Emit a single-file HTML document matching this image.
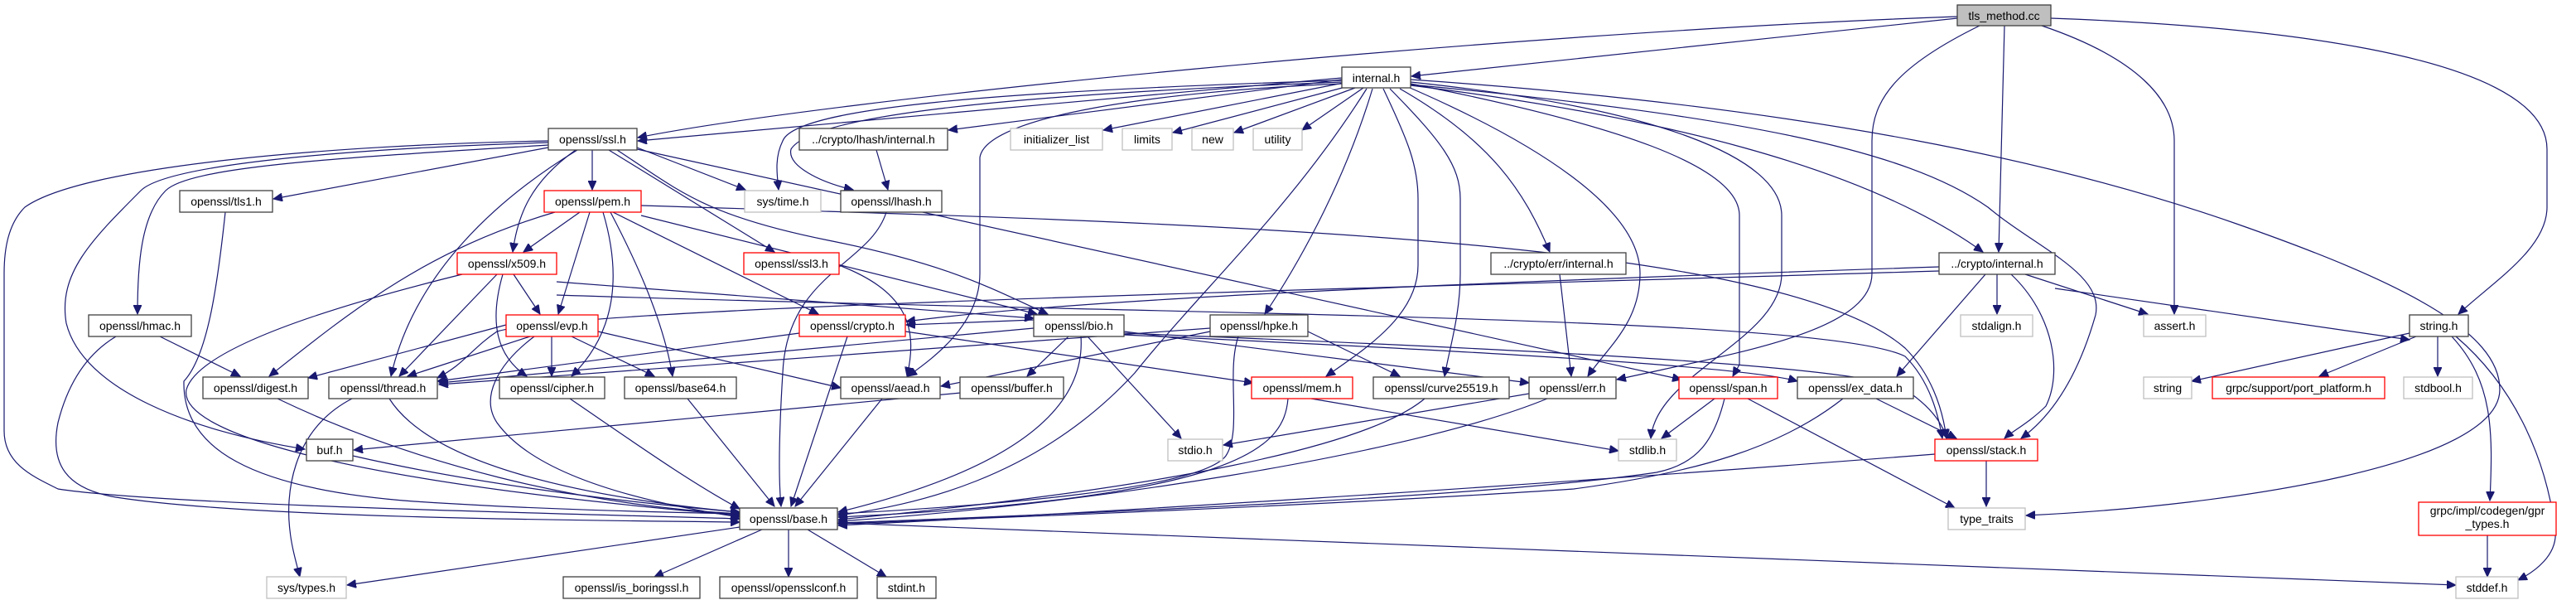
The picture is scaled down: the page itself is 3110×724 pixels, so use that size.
<!DOCTYPE html>
<html><head><meta charset="utf-8"><style>
html,body{margin:0;padding:0;background:#fff;}
svg{display:block;}
text{font-family:"Liberation Sans",sans-serif;font-size:14px;fill:#000;}
.e{fill:none;stroke:#191970;stroke-width:1.2;marker-end:url(#a);}
.k{fill:#fff;stroke:#404040;stroke-width:1.3;}
.r{fill:#fff;stroke:#ff0000;stroke-width:1.3;}
.g{fill:#fff;stroke:#bfbfbf;stroke-width:1.3;}
</style></head><body>
<svg width="3110" height="724" viewBox="0 0 3110 724" xmlns="http://www.w3.org/2000/svg">
<defs><marker id="a" markerUnits="userSpaceOnUse" markerWidth="12" markerHeight="10" refX="11" refY="5" orient="auto"><path d="M0,0 L11,5 L0,10 z" fill="#191970" stroke="#191970"/></marker></defs>
<g>
<!-- tls_method.cc -->
<path class="e" d="M2363,22 L1704,92"/>
<path class="e" d="M2363,20 C1800,40 1000,120 770,166"/>
<path class="e" d="M2390,31 C2290,80 2260,120 2260,170 L2260,330 C2260,400 2100,425 1952,458"/>
<path class="e" d="M2420,31 L2413,304"/>
<path class="e" d="M2465,31 C2580,70 2625,120 2625,170 L2625,379"/>
<path class="e" d="M2476,22 C2700,30 3075,60 3075,180 L3075,250 C3075,300 3010,340 2968,379"/>
<!-- internal.h -->
<path class="e" d="M1620,94 L770,170"/>
<path class="e" d="M1620,96 L1145,157"/>
<path class="e" d="M1622,100 L1332,157"/>
<path class="e" d="M1628,104 L1416,160"/>
<path class="e" d="M1636,106 L1490,160"/>
<path class="e" d="M1646,106 L1572,157"/>
<path class="e" d="M1620,97 C1200,110 960,130 945,170 C935,190 938,210 940,229"/>
<path class="e" d="M1620,99 C1200,115 980,140 955,180 C950,200 990,220 1030,229"/>
<path class="e" d="M1620,101 C1400,110 1190,140 1183,190 L1183,330 C1183,390 1130,430 1096,454"/>
<path class="e" d="M1650,107 C1560,250 1450,350 1370,450 C1250,580 1100,610 1012,622"/>
<path class="e" d="M1657,107 C1620,230 1560,330 1527,379"/>
<path class="e" d="M1670,107 C1700,170 1712,200 1712,240 L1712,320 C1712,380 1650,420 1601,454"/>
<path class="e" d="M1678,107 C1740,170 1763,200 1763,240 L1763,330 C1763,380 1750,420 1744,454"/>
<path class="e" d="M1690,107 C1800,170 1840,230 1871,304"/>
<path class="e" d="M1700,105 C1850,170 1980,250 1980,330 C1980,390 1940,420 1917,454"/>
<path class="e" d="M1703,101 C1950,150 2100,200 2100,260 L2100,440 L2092,454"/>
<path class="e" d="M1703,99 C2000,130 2151,190 2151,260 L2151,330 C2151,410 2000,450 1993,529"/>
<path class="e" d="M1703,102 C2100,140 2300,180 2400,250 C2460,300 2540,330 2530,380 C2510,450 2480,500 2440,529"/>
<path class="e" d="M1703,103 C2000,140 2250,200 2394,304"/>
<path class="e" d="M1703,96 C2200,130 2500,200 2700,270 C2900,340 3018,400 3018,470 C3018,560 2700,610 2446,622"/>
<!-- ssl.h -->
<path class="e" d="M715,181 L715,229"/>
<path class="e" d="M662,178 L330,240"/>
<path class="e" d="M662,175 C420,190 230,200 200,230 C170,260 166,320 166,379"/>
<path class="e" d="M662,172 C400,180 200,200 170,230 C110,290 70,330 80,390 C100,470 230,520 368,542"/>
<path class="e" d="M662,170 C400,175 100,200 30,250 C10,270 5,300 5,330 L5,520 C5,560 40,575 70,590 C200,610 700,620 893,626"/>
<path class="e" d="M695,181 C640,220 625,260 619,304"/>
<path class="e" d="M697,181 C600,240 500,330 472,454"/>
<path class="e" d="M769,178 L900,229"/>
<path class="e" d="M735,181 L935,304"/>
<path class="e" d="M745,181 C820,230 850,260 1000,290 C1150,320 1200,350 1265,379"/>
<path class="e" d="M769,180 L2030,458"/>
<!-- pem.h -->
<path class="e" d="M700,256 L632,304"/>
<path class="e" d="M670,256 C520,300 430,370 325,454"/>
<path class="e" d="M712,256 L674,379"/>
<path class="e" d="M728,256 C750,330 745,400 690,454"/>
<path class="e" d="M737,256 C760,300 800,380 812,454"/>
<path class="e" d="M740,256 L988,379"/>
<path class="e" d="M774,260 L1252,379"/>
<path class="e" d="M774,248 C1500,270 2150,290 2300,420 C2330,450 2345,490 2350,529"/>
<!-- x509 -->
<path class="e" d="M620,331 L652,379"/>
<path class="e" d="M600,331 L482,454"/>
<path class="e" d="M607,331 C590,390 600,430 636,454"/>
<path class="e" d="M558,331 C400,370 240,420 225,470 C215,520 400,580 893,622"/>
<path class="e" d="M672,340 L1248,384"/>
<path class="e" d="M672,356 C1400,380 2200,380 2300,430 C2330,460 2340,500 2345,529"/>
<!-- hmac, tls1 -->
<path class="e" d="M193,406 L290,454"/>
<path class="e" d="M140,406 C100,430 80,470 70,510 C60,560 80,590 140,600 C300,625 700,628 893,630"/>
<path class="e" d="M272,256 C262,350 250,430 222,460 C220,540 300,590 500,605 C650,615 800,618 893,620"/>
<!-- evp -->
<path class="e" d="M611,392 L372,456"/>
<path class="e" d="M640,406 L492,454"/>
<path class="e" d="M666,406 L666,454"/>
<path class="e" d="M690,406 L790,454"/>
<path class="e" d="M722,400 L1015,468"/>
<path class="e" d="M645,406 C600,440 580,480 600,510 C650,580 800,610 893,624"/>
<!-- row 454 to base -->
<path class="e" d="M335,481 C500,560 700,610 893,620"/>
<path class="e" d="M470,481 C520,560 700,600 893,618"/>
<path class="e" d="M425,481 C350,520 345,600 350,640 C352,660 358,680 362,696"/>
<path class="e" d="M688,481 C760,530 830,580 893,614"/>
<path class="e" d="M830,481 L935,611"/>
<path class="e" d="M426,550 C600,590 800,610 893,618"/>
<!-- crypto.h -->
<path class="e" d="M1023,406 L955,611"/>
<path class="e" d="M965,402 L528,460"/>
<path class="e" d="M1093,400 L1513,462"/>
<path class="e" d="M1013,320 C1090,350 1110,390 1095,454"/>
<path class="e" d="M1058,181 L1072,229"/>
<path class="e" d="M1070,256 C1050,320 950,330 945,450 C940,530 940,580 943,611"/>
<!-- bio.h -->
<path class="e" d="M1248,386 L1094,392"/>
<path class="e" d="M1248,396 L530,462"/>
<path class="e" d="M1290,406 L1240,454"/>
<path class="e" d="M1305,406 C1310,480 1250,560 1012,618"/>
<path class="e" d="M1313,406 L1426,529"/>
<path class="e" d="M1357,400 L1846,462"/>
<path class="e" d="M1357,404 C1700,420 2100,440 2170,460"/>
<path class="e" d="M1357,402 C1800,420 2250,440 2300,470 C2330,490 2345,510 2350,529"/>
<path class="e" d="M2341,322 C1800,340 1300,360 1094,388"/>
<path class="e" d="M2341,327 C1600,350 700,370 600,400 C570,420 560,440 528,456"/>
<path class="e" d="M1065,481 L960,611"/>
<path class="e" d="M1160,474 L427,543"/>
<!-- hpke -->
<path class="e" d="M1461,400 L1136,466"/>
<path class="e" d="M1461,396 L530,464"/>
<path class="e" d="M1495,406 C1480,450 1500,520 1480,550 C1450,590 1200,610 1012,620"/>
<path class="e" d="M1579,400 L1690,454"/>
<path class="e" d="M1583,481 L1954,544"/>
<path class="e" d="M1555,481 C1550,540 1500,600 1012,624"/>
<path class="e" d="M1720,481 C1650,540 1400,590 1012,627"/>
<path class="e" d="M1883,331 L1897,454"/>
<path class="e" d="M1846,475 L1477,537"/>
<path class="e" d="M1868,481 C1700,550 1300,610 1012,629"/>
<!-- span, ex_data -->
<path class="e" d="M2070,481 L2006,529"/>
<path class="e" d="M2082,481 C2070,530 2050,560 2000,570 C1800,600 1300,620 1012,631"/>
<path class="e" d="M2110,481 L2360,613"/>
<path class="e" d="M2225,481 C2150,540 2050,570 1900,590 C1600,610 1200,625 1012,632"/>
<path class="e" d="M2265,481 L2362,529"/>
<!-- crypto/internal -->
<path class="e" d="M2411,331 L2411,379"/>
<path class="e" d="M2445,331 L2593,379"/>
<path class="e" d="M2481,348 L2909,410"/>
<path class="e" d="M2428,331 C2480,380 2490,450 2470,490 C2450,510 2430,520 2420,529"/>
<path class="e" d="M2397,331 L2290,454"/>
<path class="e" d="M2336,548 C1800,590 1300,620 1012,634"/>
<path class="e" d="M2398,556 L2398,611"/>
<!-- string.h -->
<path class="e" d="M2909,402 L2646,460"/>
<path class="e" d="M2917,406 L2800,454"/>
<path class="e" d="M2943,406 L2943,454"/>
<path class="e" d="M2960,406 C3010,460 3010,520 3006,604"/>
<path class="e" d="M2965,406 C3040,470 3075,560 3085,640 C3088,670 3060,690 3040,700"/>
<path class="e" d="M3003,646 L3003,696"/>
<!-- base.h -->
<path class="e" d="M893,636 L419,706"/>
<path class="e" d="M920,639 L790,696"/>
<path class="e" d="M952,639 L952,696"/>
<path class="e" d="M975,639 L1070,696"/>
<path class="e" d="M1011,631 L2965,706"/>
</g>
<g>
<rect x="2363" y="6" width="113" height="25" fill="#bfbfbf" stroke="#404040" stroke-width="1.3"/><text x="2419.5" y="24" text-anchor="middle">tls_method.cc</text>
<rect class="k" x="1620" y="81" width="83" height="25"/><text x="1661.5" y="99" text-anchor="middle">internal.h</text>
<rect class="k" x="662" y="155" width="107" height="26"/><text x="715.5" y="173" text-anchor="middle">openssl/ssl.h</text>
<rect class="k" x="965" y="155" width="179" height="26"/><text x="1054.5" y="173" text-anchor="middle">../crypto/lhash/internal.h</text>
<rect class="g" x="1220" y="155" width="111" height="26"/><text x="1275.5" y="173" text-anchor="middle" fill="#000">initializer_list</text>
<rect class="g" x="1355" y="155" width="60" height="26"/><text x="1385" y="173" text-anchor="middle">limits</text>
<rect class="g" x="1439" y="155" width="50" height="26"/><text x="1464" y="173" text-anchor="middle">new</text>
<rect class="g" x="1513" y="155" width="59" height="26"/><text x="1542.5" y="173" text-anchor="middle">utility</text>
<rect class="k" x="217" y="230" width="112" height="26"/><text x="273" y="248" text-anchor="middle">openssl/tls1.h</text>
<rect class="r" x="657" y="230" width="117" height="26"/><text x="715.5" y="248" text-anchor="middle">openssl/pem.h</text>
<rect class="g" x="899" y="230" width="92" height="26"/><text x="945" y="248" text-anchor="middle">sys/time.h</text>
<rect class="k" x="1015" y="230" width="122" height="26"/><text x="1076" y="248" text-anchor="middle">openssl/lhash.h</text>
<rect class="r" x="552" y="305" width="120" height="26"/><text x="612" y="323" text-anchor="middle">openssl/x509.h</text>
<rect class="r" x="898" y="305" width="115" height="26"/><text x="955.5" y="323" text-anchor="middle">openssl/ssl3.h</text>
<rect class="k" x="1800" y="305" width="163" height="26"/><text x="1881.5" y="323" text-anchor="middle">../crypto/err/internal.h</text>
<rect class="k" x="2341" y="305" width="140" height="26"/><text x="2411" y="323" text-anchor="middle">../crypto/internal.h</text>
<rect class="k" x="107" y="380" width="124" height="26"/><text x="169" y="398" text-anchor="middle">openssl/hmac.h</text>
<rect class="r" x="611" y="380" width="111" height="26"/><text x="666.5" y="398" text-anchor="middle">openssl/evp.h</text>
<rect class="r" x="965" y="380" width="128" height="26"/><text x="1029" y="398" text-anchor="middle">openssl/crypto.h</text>
<rect class="k" x="1248" y="380" width="109" height="26"/><text x="1302.5" y="398" text-anchor="middle">openssl/bio.h</text>
<rect class="k" x="1461" y="380" width="118" height="26"/><text x="1520" y="398" text-anchor="middle">openssl/hpke.h</text>
<rect class="g" x="2367" y="380" width="87" height="26"/><text x="2410.5" y="398" text-anchor="middle">stdalign.h</text>
<rect class="g" x="2588" y="380" width="75" height="26"/><text x="2625.5" y="398" text-anchor="middle">assert.h</text>
<rect class="k" x="2909" y="380" width="71" height="26"/><text x="2944.5" y="398" text-anchor="middle">string.h</text>
<rect class="k" x="245" y="455" width="127" height="26"/><text x="308.5" y="473" text-anchor="middle">openssl/digest.h</text>
<rect class="k" x="397" y="455" width="131" height="26"/><text x="462.5" y="473" text-anchor="middle">openssl/thread.h</text>
<rect class="k" x="603" y="455" width="127" height="26"/><text x="666.5" y="473" text-anchor="middle">openssl/cipher.h</text>
<rect class="k" x="754" y="455" width="135" height="26"/><text x="821.5" y="473" text-anchor="middle">openssl/base64.h</text>
<rect class="k" x="1015" y="455" width="120" height="26"/><text x="1075" y="473" text-anchor="middle">openssl/aead.h</text>
<rect class="k" x="1159" y="455" width="125" height="26"/><text x="1221.5" y="473" text-anchor="middle">openssl/buffer.h</text>
<rect class="r" x="1511" y="455" width="122" height="26"/><text x="1572" y="473" text-anchor="middle">openssl/mem.h</text>
<rect class="k" x="1658" y="455" width="164" height="26"/><text x="1740" y="473" text-anchor="middle">openssl/curve25519.h</text>
<rect class="k" x="1846" y="455" width="105" height="26"/><text x="1898.5" y="473" text-anchor="middle">openssl/err.h</text>
<rect class="r" x="2027" y="455" width="119" height="26"/><text x="2086.5" y="473" text-anchor="middle">openssl/span.h</text>
<rect class="k" x="2170" y="455" width="140" height="26"/><text x="2240" y="473" text-anchor="middle">openssl/ex_data.h</text>
<rect class="g" x="2588" y="455" width="58" height="26"/><text x="2617" y="473" text-anchor="middle">string</text>
<rect class="r" x="2671" y="455" width="208" height="26"/><text x="2775" y="473" text-anchor="middle">grpc/support/port_platform.h</text>
<rect class="g" x="2902" y="455" width="83" height="26"/><text x="2943.5" y="473" text-anchor="middle">stdbool.h</text>
<rect class="k" x="370" y="530" width="56" height="26"/><text x="398" y="548" text-anchor="middle">buf.h</text>
<rect class="g" x="1410" y="530" width="66" height="26"/><text x="1443" y="548" text-anchor="middle">stdio.h</text>
<rect class="g" x="1954" y="530" width="70" height="26"/><text x="1989" y="548" text-anchor="middle">stdlib.h</text>
<rect class="r" x="2336" y="530" width="124" height="26"/><text x="2398" y="548" text-anchor="middle">openssl/stack.h</text>
<rect class="k" x="893" y="613" width="118" height="26"/><text x="952" y="631" text-anchor="middle">openssl/base.h</text>
<rect class="g" x="2352" y="613" width="93" height="26"/><text x="2398.5" y="631" text-anchor="middle">type_traits</text>
<rect class="r" x="2920" y="606" width="166" height="40"/><text x="3003" y="621" text-anchor="middle">grpc/impl/codegen/gpr</text><text x="3003" y="637" text-anchor="middle">_types.h</text>
<rect class="g" x="322" y="696" width="96" height="26"/><text x="370" y="714" text-anchor="middle">sys/types.h</text>
<rect class="k" x="680" y="696" width="165" height="26"/><text x="762.5" y="714" text-anchor="middle">openssl/is_boringssl.h</text>
<rect class="k" x="869" y="696" width="166" height="26"/><text x="952" y="714" text-anchor="middle">openssl/opensslconf.h</text>
<rect class="k" x="1059" y="696" width="71" height="26"/><text x="1094.5" y="714" text-anchor="middle">stdint.h</text>
<rect class="g" x="2965" y="696" width="75" height="26"/><text x="3002.5" y="714" text-anchor="middle">stddef.h</text>
</g>
</svg>
</body></html>
